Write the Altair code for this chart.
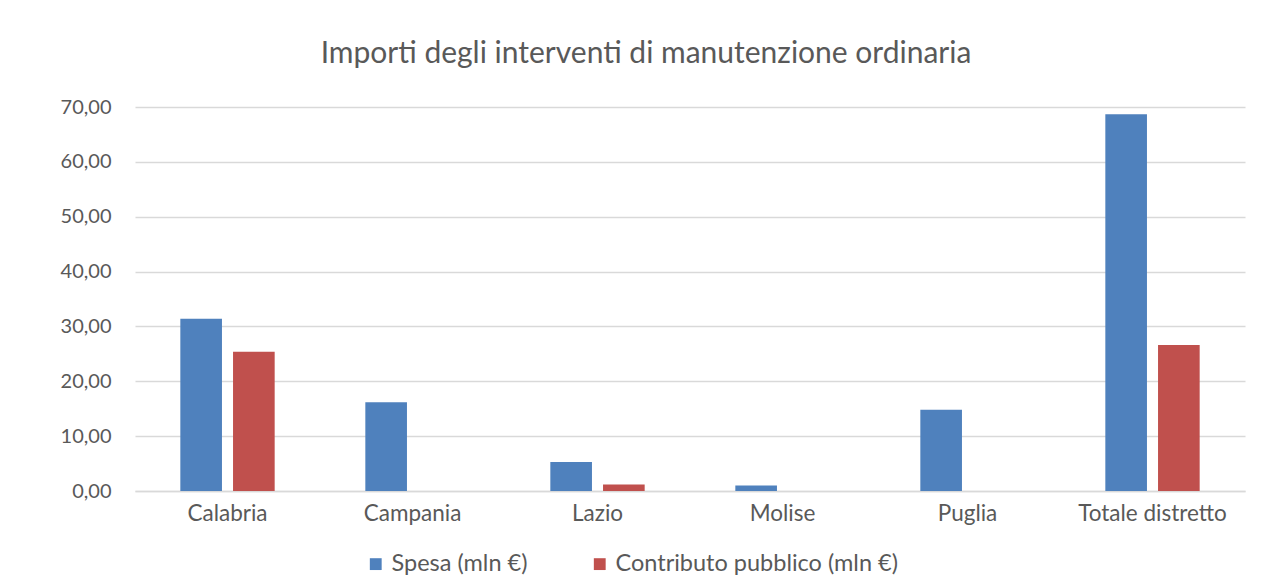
import altair as alt
import pandas as pd

categories = ["Calabria", "Campania", "Lazio", "Molise", "Puglia", "Totale distretto"]
series_names = ["Spesa (mln €)", "Contributo pubblico (mln €)"]
spesa = [31.4, 16.2, 5.3, 1.0, 14.8, 68.7]
contributo = [25.4, 0.0, 1.2, 0.0, 0.0, 26.6]
colors = ["#4f81bd", "#c0504d"]

rows = []
for c, s, p in zip(categories, spesa, contributo):
    rows.append({"cat": c, "serie": series_names[0], "val": s})
    rows.append({"cat": c, "serie": series_names[1], "val": p})
df = pd.DataFrame(rows)

FONT = "Lato"
GREY = "#595959"

chart = alt.Chart(df).mark_bar().encode(
    x=alt.X("cat:N", sort=categories, title=None,
            scale=alt.Scale(paddingInner=0.49, paddingOuter=0.245),
            axis=alt.Axis(labelAngle=0, labelFontSize=22.5, labelColor=GREY, labelFont=FONT,
                          labelPadding=11, ticks=False, domainColor="#d9d9d9", domainWidth=1.5)),
    xOffset=alt.XOffset("serie:N", sort=series_names,
                        scale=alt.Scale(paddingInner=0.21, paddingOuter=0)),
    y=alt.Y("val:Q", title=None,
            scale=alt.Scale(domain=[0, 70], nice=False),
            axis=alt.Axis(values=[0, 10, 20, 30, 40, 50, 60, 70], ticks=False, domain=False,
                          labelExpr="replace(format(datum.value, '.2f'), '.', ',')",
                          labelFontSize=20, labelColor=GREY, labelFont=FONT, labelPadding=24,
                          gridColor="#d9d9d9", gridWidth=1.5)),
    color=alt.Color("serie:N", sort=series_names,
                    scale=alt.Scale(domain=series_names, range=colors),
                    legend=alt.Legend(title=None, orient="none", direction="horizontal",
                                      legendX=229, legendY=445, symbolType="square",
                                      symbolSize=140, symbolStrokeWidth=0, symbolOpacity=1,
                                      labelFontSize=23.5, labelColor=GREY, labelFont=FONT,
                                      labelLimit=0, columnPadding=60, labelOffset=4)),
).properties(
    width=1110, height=384,
    title=alt.TitleParams("Importi degli interventi di manutenzione ordinaria",
                          fontSize=30, font=FONT, fontWeight="normal", color=GREY,
                          dx=-44, offset=28),
    autosize=alt.AutoSizeParams(type="none"),
    padding={"left": 127, "top": 99, "right": 18, "bottom": 86},
).configure_view(stroke=None)

chart.save("out.html", embed_options={"renderer": "svg", "actions": False})
